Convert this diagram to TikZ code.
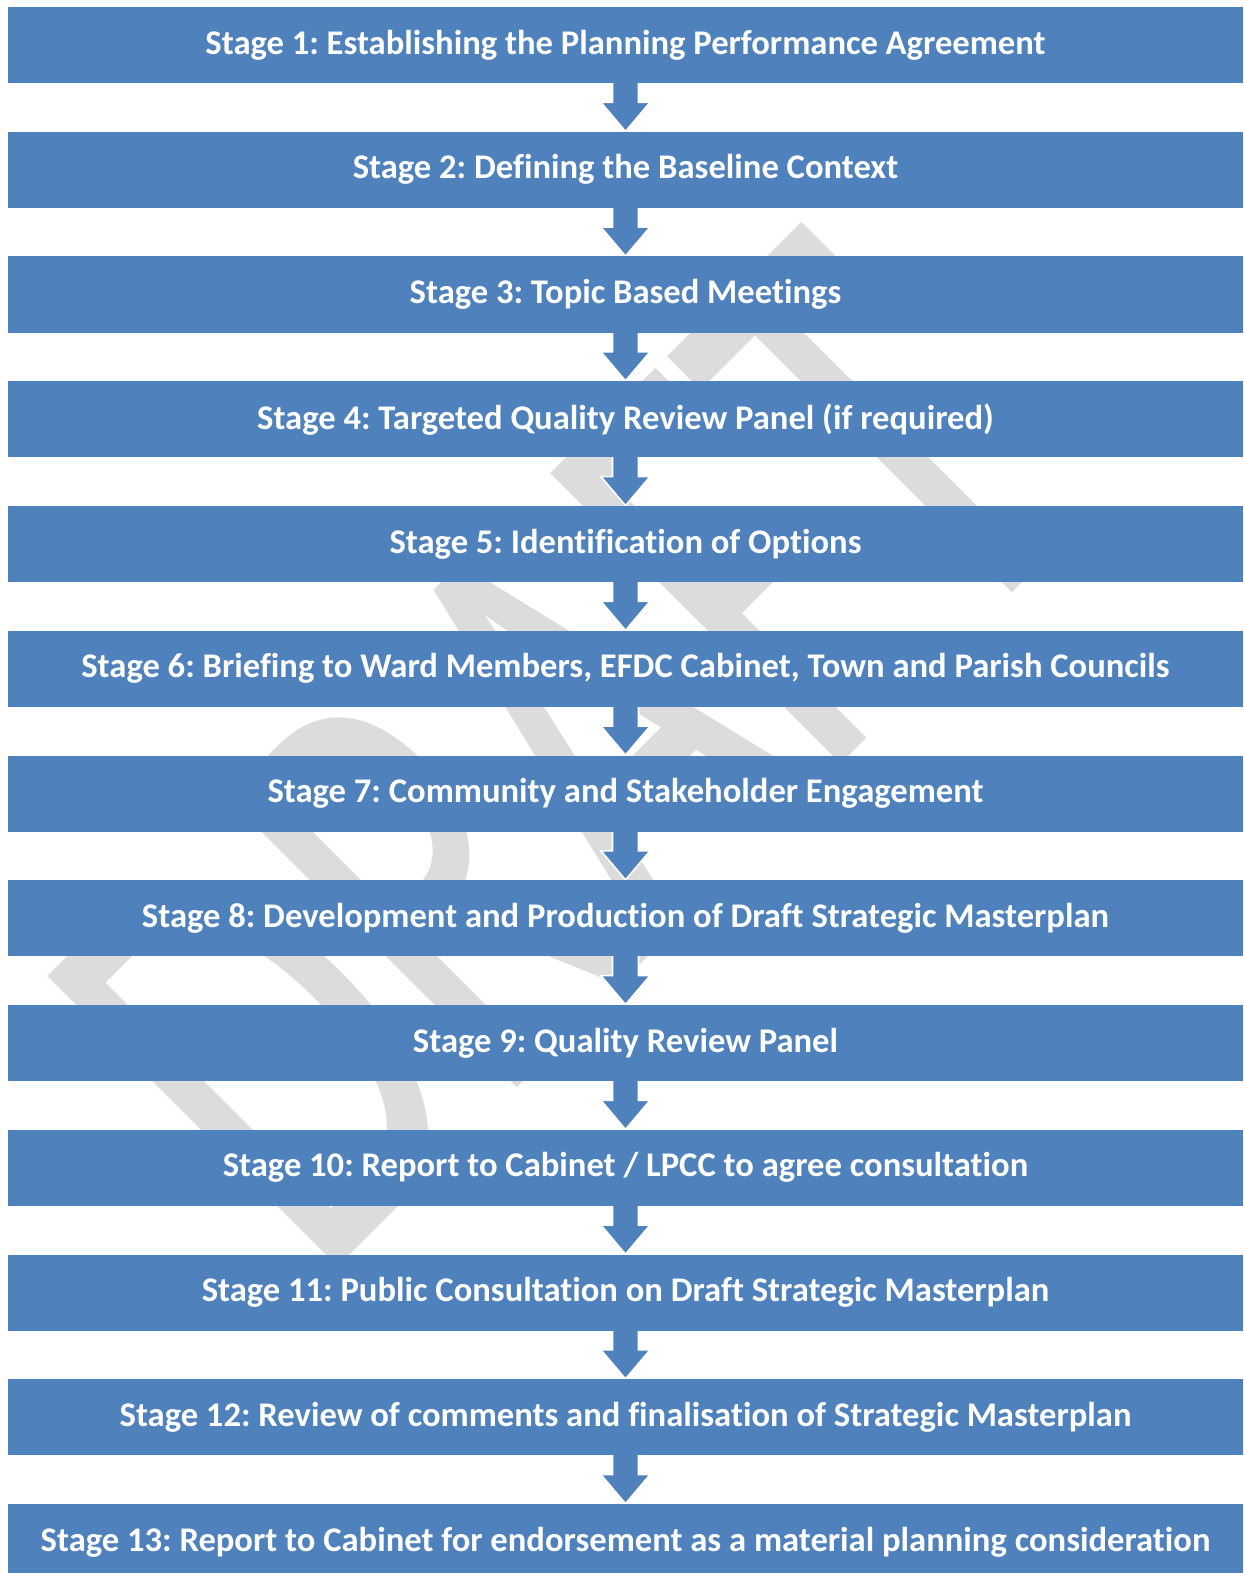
\documentclass[tikz,border=0pt]{standalone}
\usepackage{fontspec}
\setmainfont{Carlito}[Ligatures=CommonOff]
\usetikzlibrary{calc}
\frenchspacing

\definecolor{stageblue}{HTML}{4F81BD}
\definecolor{markgray}{HTML}{DCDCDC}

\pgfdeclarelayer{markbg}
\pgfdeclarelayer{arrowbg}
\pgfsetlayers{markbg,arrowbg,main}

\tikzset{
  stagebar/.style={fill=stageblue, text=white, font=\fontsize{17.3pt}{20pt}\selectfont\bfseries,
    minimum width=617.5pt, minimum height=38pt, inner sep=0pt, anchor=center},
  flowarrow/.style={fill=stageblue, draw=white, line width=0.8pt, line join=miter},
  watermark/.style={text=markgray, rotate=45, inner sep=0pt,
    font=\fontsize{320pt}{320pt}\selectfont}
}

% block arrow from one stage to the next
\newcommand{\stagearrow}[2]{%
  \filldraw[flowarrow] ($(#1.south)+(-13,-2)$) -- ($(#1.south)+(13,-2)$) -- ($(#1.south)+(13,19)$)
    -- ($(#1.south)+(24.5,19)$) -- (#2.north) -- ($(#1.south)+(-24.5,19)$)
    -- ($(#1.south)+(-13,19)$) -- cycle;}

\begin{document}
\begin{tikzpicture}[x=0.5pt, y=-0.5pt]
  \useasboundingbox (0,0) rectangle (1243,1573);

  \node (s1) [stagebar] at (625.5,45) {Stage 1: Establishing the Planning Performance Agreement};
  \node (s2) [stagebar] at (625.5,169.75) {Stage 2: Defining the Baseline Context};
  \node (s3) [stagebar] at (625.5,294.5) {Stage 3: Topic Based Meetings};
  \node (s4) [stagebar] at (625.5,419.25) {Stage 4: Targeted Quality Review Panel (if required)};
  \node (s5) [stagebar] at (625.5,544) {Stage 5: Identification of Options};
  \node (s6) [stagebar] at (625.5,668.75) {Stage 6: Briefing to Ward Members, EFDC Cabinet, Town and Parish Councils};
  \node (s7) [stagebar] at (625.5,793.5) {Stage 7: Community and Stakeholder Engagement};
  \node (s8) [stagebar] at (625.5,918.25) {Stage 8: Development and Production of Draft Strategic Masterplan};
  \node (s9) [stagebar] at (625.5,1043) {Stage 9: Quality Review Panel};
  \node (s10) [stagebar] at (625.5,1167.75) {Stage 10: Report to Cabinet / LPCC to agree consultation};
  \node (s11) [stagebar] at (625.5,1292.5) {Stage 11: Public Consultation on Draft Strategic Masterplan};
  \node (s12) [stagebar] at (625.5,1417.25) {Stage 12: Review of comments and finalisation of Strategic Masterplan};
  \node (s13) [stagebar] at (625.5,1542) {Stage 13: Report to Cabinet for endorsement as a material planning consideration};

  \begin{pgfonlayer}{arrowbg}
    \foreach \a/\b in {s1/s2,s2/s3,s3/s4,s4/s5,s5/s6,s6/s7,s7/s8,s8/s9,s9/s10,s10/s11,s11/s12,s12/s13}
      \stagearrow{\a}{\b};
  \end{pgfonlayer}

  \begin{pgfonlayer}{markbg}
    \fill[white] (0,0) rectangle (1243,1573);
    \node (draft) [watermark] at (562,753) {\scalebox{0.64}[1]{DRAFT}};
  \end{pgfonlayer}
\end{tikzpicture}
\end{document}
